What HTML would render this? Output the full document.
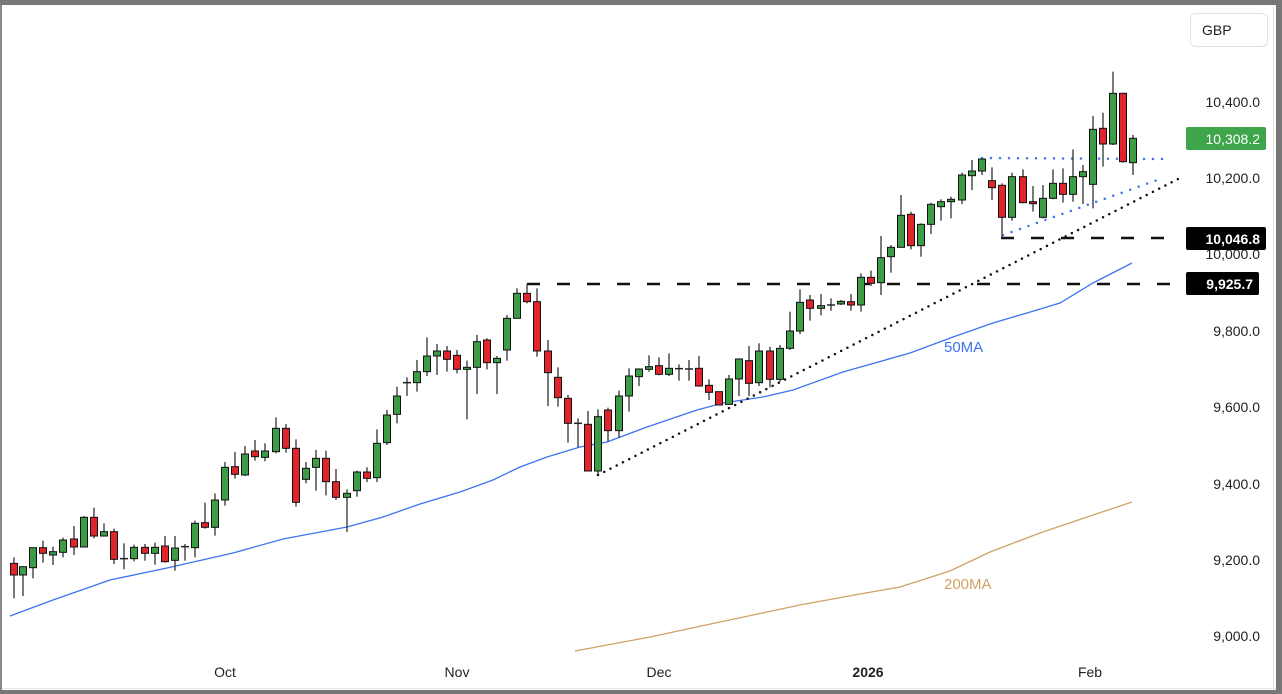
<!DOCTYPE html>
<html><head><meta charset="utf-8">
<style>
html,body{margin:0;padding:0;background:#fff;}
body{width:1282px;height:694px;overflow:hidden;position:relative;font-family:"Liberation Sans",sans-serif;}
svg{position:absolute;left:0;top:0;}
</style></head><body>
<svg id="s" width="1282" height="694" xmlns="http://www.w3.org/2000/svg">
<rect x="0" y="0" width="1282" height="694" fill="#fff"/>
<g id="ma"></g>
<g id="lines"></g>
<g id="c"></g>
<g id="lab"></g>
</svg>
<script>
var NS="http://www.w3.org/2000/svg";
function el(p,t,a,txt){var e=document.createElementNS(NS,t);for(var k in a)e.setAttribute(k,a[k]);if(txt!=null)e.textContent=txt;document.getElementById(p).appendChild(e);return e;}
// candles: x, color(g/r/d), bodyTop, bodyBot, hi, lo (zoom coords)
var z1=[[14,'r',490,525,472,595],[23,'g',500,525,500,588],[33,'g',443,503,443,535],[43,'r',443,460,422,488],[53,'g',455,465,440,495],[63,'g',420,457,413,472],[74,'r',417,441,378,465],[84,'g',352,441,348,441],[94,'r',352,408,323,415],[104,'g',395,408,370,410],[114,'r',395,478,386,492],[124,'d',476,476,430,508],[134,'g',442,476,434,484],[145,'r',442,460,432,482],[155,'g',442,460,428,494],[165,'r',438,485,408,488],[175,'g',444,481,408,512],[185,'d',440,440,432,482],[195,'g',370,443,362,472],[205,'r',368,382,308,386],[215,'g',300,382,280,407],[225,'g',202,300,186,317],[235,'r',200,223,156,236],[245,'g',162,225,138,228],[255,'r',153,170,120,182],[265,'g',153,172,130,184],[276,'g',85,155,52,160],[286,'r',85,145,72,158],[296,'r',145,307,118,320],[306,'g',205,238,186,250],[316,'g',175,202,150,272],[326,'r',175,245,152,286],[336,'r',245,292,207,300],[347,'g',280,292,268,396],[357,'g',216,272,212,290],[367,'r',216,235,202,246],[377,'g',130,233,88,246]];
var z2=[[387,'g',435,518,420,525],[397,'g',378,433,350,460],[407,'d',338,338,322,378],[417,'g',305,338,270,365],[427,'g',258,305,202,318],[437,'g',243,258,222,315],[447,'r',243,268,228,305],[457,'r',256,298,240,310],[467,'g',292,298,272,448],[477,'g',215,292,195,372],[487,'r',210,278,205,298],[497,'g',265,278,258,372],[507,'g',145,240,135,272],[517,'g',70,145,55,145],[527,'r',70,95,42,100],[537,'r',95,243,55,260],[548,'r',243,308,210,408],[558,'r',322,383,292,410],[568,'r',385,460,375,518],[578,'d',460,460,445,532],[588,'r',463,603,423,603],[598,'g',440,603,418,612],[608,'r',420,482,413,515],[619,'g',378,482,362,503],[629,'g',318,378,295,425],[639,'g',297,320,295,348],[649,'g',290,298,256,305],[659,'r',287,313,262,316],[669,'g',295,313,250,318],[679,'d',296,296,283,332],[689,'d',297,297,270,332],[699,'r',295,348,258,350],[709,'r',346,367,328,390],[719,'r',365,405,365,405],[729,'g',327,403,315,405],[739,'g',267,327,265,378],[749,'r',272,340,228,378],[759,'g',243,338,220,348],[770,'r',243,328,230,352]];
var z3=[[780,'g',865,958,855,965],[790,'g',813,865,755,870],[800,'g',727,813,688,822],[810,'r',720,745,705,782],[821,'g',737,745,702,766],[831,'d',735,735,715,752],[841,'g',724,732,720,735],[851,'r',725,735,702,752],[861,'g',652,735,640,755],[871,'r',652,670,632,678],[881,'g',593,668,528,705],[891,'g',562,590,555,638],[901,'g',466,562,405,562],[911,'r',463,557,455,568],[921,'g',493,557,490,590],[931,'g',433,493,428,522],[941,'g',425,440,418,482],[951,'g',418,425,410,475],[962,'g',345,420,338,432],[972,'g',333,347,300,390],[982,'g',297,333,297,345],[992,'r',362,383,322,420],[1002,'r',376,472,370,535],[1012,'g',350,472,338,482],[1023,'r',350,428,328,430],[1033,'r',425,431,378,455],[1043,'g',415,472,375,475],[1053,'g',370,415,328,418],[1063,'r',370,403,325,428],[1073,'g',350,403,268,425],[1083,'g',335,350,315,432],[1093,'g',208,373,168,445],[1103,'r',205,252,158,320],[1113,'g',100,252,35,255],[1123,'r',100,305,98,308],[1133,'g',235,308,225,345]];
function draw(arr,off){arr.forEach(function(c){var x=c[0],t=off+c[2]/3,b=off+c[3]/3,h=off+c[4]/3,l=off+c[5]/3;
el('c','line',{x1:x,y1:h,x2:x,y2:l,stroke:'#333','stroke-width':1.3});
if(c[1]=='d'){el('c','line',{x1:x-4,y1:t,x2:x+4,y2:t,stroke:'#222','stroke-width':1.5});}
else{var hh=Math.max(b-t,2);el('c','rect',{x:x-3.5,y:t,width:7,height:hh,fill:c[1]=='g'?'#3c9d46':'#e0242b',stroke:'#111','stroke-width':1});}});}
draw(z1,400);draw(z2,270);draw(z3,60);
// MAs
var m50=[[10,616],[53,600],[110,580],[167,568],[233,553],[283,539],[347,527],[383,517],[420,504],[460,492],[493,480],[520,467],[547,457],[580,447],[607,442],[647,427],[697,410],[723,403],[763,397],[793,390],[843,372],[910,353],[953,337],[993,323],[1027,313],[1060,303],[1093,283],[1132,263]];
el('ma','polyline',{points:m50.map(function(p){return p.join(',')}).join(' '),fill:'none',stroke:'#3d74f0','stroke-width':1.3});
var m200=[[575,651],[650,637],[720,622],[800,605],[860,594],[900,587],[950,571],[990,552],[1040,533],[1093,515],[1132,502]];
el('ma','polyline',{points:m200.map(function(p){return p.join(',')}).join(' '),fill:'none',stroke:'#cfa367','stroke-width':1.3});
// lines
el('lines','line',{x1:527,y1:284,x2:1172,y2:284,stroke:'#111','stroke-width':2.5,'stroke-dasharray':'13,17'});
el('lines','line',{x1:1001,y1:238,x2:1172,y2:238,stroke:'#111','stroke-width':2.5,'stroke-dasharray':'13,17'});
el('lines','line',{x1:598,y1:475,x2:1180,y2:178,stroke:'#111','stroke-width':2.5,'stroke-dasharray':'0,7','stroke-linecap':'round'});
el('lines','line',{x1:982,y1:158,x2:1163,y2:159,stroke:'#3d74f0','stroke-width':2.5,'stroke-dasharray':'0,9','stroke-linecap':'round'});
el('lines','line',{x1:1003,y1:235,x2:1163,y2:178,stroke:'#3d74f0','stroke-width':2.5,'stroke-dasharray':'0,9','stroke-linecap':'round'});
// labels
var yl=[['10,400.0',102],['10,200.0',178],['10,000.0',254],['9,800.0',331],['9,600.0',407],['9,400.0',484],['9,200.0',560],['9,000.0',636]];
yl.forEach(function(a){el('lab','text',{x:1260,y:a[1]+5,'text-anchor':'end','font-size':14,fill:'#222','font-family':'Liberation Sans, sans-serif'},a[0]);});
[['Oct',225],['Nov',457],['Dec',659],['2026',868],['Feb',1090]].forEach(function(a){el('lab','text',{x:a[1],y:677,'text-anchor':'middle','font-size':14,fill:'#222','font-family':'Liberation Sans, sans-serif','font-weight':a[0]=='2026'?'bold':'normal'},a[0]);});
el('lab','rect',{x:1186,y:127,width:80,height:23,rx:2,fill:'#3ea54a'});
el('lab','text',{x:1260,y:144,'text-anchor':'end','font-size':14,fill:'#fff','font-family':'Liberation Sans, sans-serif'},'10,308.2');
el('lab','rect',{x:1186,y:227,width:80,height:23,rx:2,fill:'#000'});
el('lab','text',{x:1260,y:244,'text-anchor':'end','font-size':14,fill:'#fff','font-weight':'bold','font-family':'Liberation Sans, sans-serif'},'10,046.8');
el('lab','rect',{x:1186,y:272,width:73,height:23,rx:2,fill:'#000'});
el('lab','text',{x:1253,y:289,'text-anchor':'end','font-size':14,fill:'#fff','font-weight':'bold','font-family':'Liberation Sans, sans-serif'},'9,925.7');
el('lab','rect',{x:1190.5,y:13.5,width:77,height:33,rx:5,fill:'#fff',stroke:'#e3e3e3'});
el('lab','text',{x:1202,y:35,'font-size':14,fill:'#222','font-family':'Liberation Sans, sans-serif'},'GBP');
el('lab','text',{x:944,y:352,'font-size':15,fill:'#3d74f0','font-family':'Liberation Sans, sans-serif'},'50MA');
el('lab','text',{x:944,y:589,'font-size':15,fill:'#cfa367','font-family':'Liberation Sans, sans-serif'},'200MA');
// frame
el('lab','rect',{x:0,y:0,width:2,height:694,fill:'#888'});
el('lab','rect',{x:0,y:0,width:1282,height:5,fill:'#777'});
el('lab','rect',{x:1276,y:0,width:6,height:694,fill:'#777'});
el('lab','rect',{x:0,y:690,width:1282,height:4,fill:'#777'});
el('lab','rect',{x:1273,y:5,width:1,height:685,fill:'#e6e6e6'});
el('lab','rect',{x:2,y:688,width:1274,height:1,fill:'#e6e6e6'});
</script>
</body></html>
